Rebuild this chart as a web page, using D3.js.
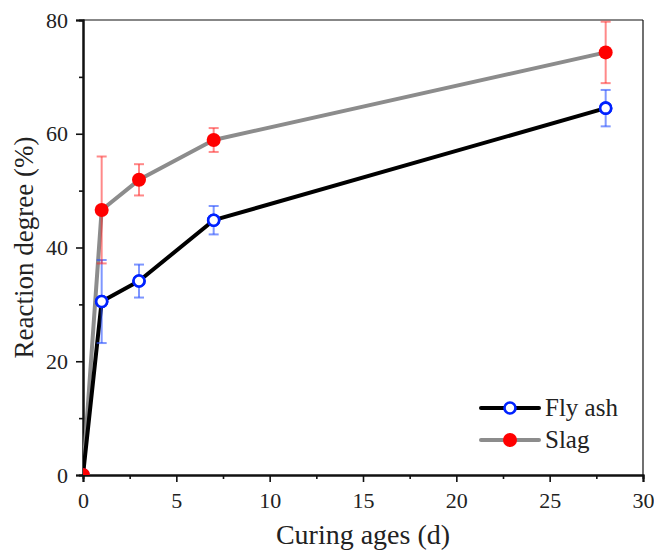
<!DOCTYPE html>
<html><head><meta charset="utf-8">
<script src="https://cdn.jsdelivr.net/npm/d3@7"></script>
<style>body{margin:0;background:#fff}svg{display:block}text{font-family:"Liberation Serif","Times New Roman",serif;fill:#222}</style>
</head><body><svg id="c" width="654" height="552"></svg>
<script>
const ages = [0, 1, 3, 7, 28];
const flyAsh = [0, 30.5, 34.1, 44.8, 64.5];
const flyAshErr = [0, 7.3, 2.9, 2.5, 3.2];
const slag = [0, 46.6, 51.9, 58.9, 74.3];
const slagErr = [0, 9.4, 2.75, 2.1, 5.4];
const xTicks = [0, 5, 10, 15, 20, 25, 30];
const yTicks = [0, 20, 40, 60, 80];

const svg = d3.select("#c");
const L = 83, R = 643, T = 20, B = 475;
const x = d3.scaleLinear().domain([0, 30]).range([L, R]);
const y = d3.scaleLinear().domain([0, 80]).range([B, T]);

svg.append("defs").append("clipPath").attr("id","clip")
  .append("rect").attr("x",L).attr("y",T).attr("width",R-L).attr("height",B-T);

svg.append("line").attr("x1",L).attr("x2",R).attr("y1",T).attr("y2",T).attr("stroke","#111").attr("stroke-width",1.2);
svg.append("line").attr("x1",R).attr("x2",R).attr("y1",T).attr("y2",B).attr("stroke","#111").attr("stroke-width",1.2);

const xAx = svg.append("g").attr("transform",`translate(0,${B})`)
  .call(d3.axisBottom(x).tickValues(xTicks).tickSize(7).tickPadding(10).tickFormat(d3.format("d")));
const xMin = svg.append("g").attr("transform",`translate(0,${B})`)
  .call(d3.axisBottom(x).tickValues(xTicks.slice(0,-1).map(v=>v+2.5)).tickSize(4).tickFormat(""));
const yAx = svg.append("g").attr("transform",`translate(${L},0)`)
  .call(d3.axisLeft(y).tickValues(yTicks).tickSize(7).tickPadding(8).tickFormat(d3.format("d")));
const yMin = svg.append("g").attr("transform",`translate(${L},0)`)
  .call(d3.axisLeft(y).tickValues(yTicks.slice(0,-1).map(v=>v+10)).tickSize(4).tickFormat(""));
[xAx,xMin,yAx,yMin].forEach(g=>{
  g.select(".domain").attr("stroke","#111").attr("stroke-width",2);
  g.selectAll(".tick line").attr("stroke","#111").attr("stroke-width",1.6);
  g.selectAll("text").style("font-size","22px").attr("fill","#222");
});

svg.append("text").attr("x",(L+R)/2).attr("y",544).attr("text-anchor","middle")
  .style("font-size","28px").text("Curing ages (d)");
svg.append("text").attr("transform",`translate(33,${(T+B)/2}) rotate(-90)`).attr("text-anchor","middle")
  .style("font-size","27px").text("Reaction degree (%)");

const plot = svg.append("g").attr("clip-path","url(#clip)");
const series = [
  {vals: slag, err: slagErr, line:"#8c8c8c", ec:"rgba(255,40,40,0.55)", fill:"#ff0000", stroke:"#ff0000", r:7},
  {vals: flyAsh, err: flyAshErr, line:"#000", ec:"rgba(40,80,255,0.6)", fill:"#fff", stroke:"#0022ff", r:5.5}
];
const lineGen = d3.line().x((d,i)=>x(ages[i])).y(d=>y(d));
series.forEach(s=>{
  plot.append("path").datum(s.vals).attr("d",lineGen).attr("fill","none")
    .attr("stroke",s.line).attr("stroke-width",4).attr("stroke-linejoin","round");
});
series.slice().reverse().forEach(s=>{
  const g = plot.append("g").attr("stroke",s.ec).attr("stroke-width",2);
  s.vals.forEach((v,i)=>{
    if(!s.err[i]) return;
    const cx = x(ages[i]);
    g.append("line").attr("x1",cx).attr("x2",cx).attr("y1",y(v+s.err[i])).attr("y2",y(v-s.err[i]));
    [v+s.err[i], v-s.err[i]].forEach(e=>g.append("line").attr("x1",cx-5).attr("x2",cx+5).attr("y1",y(e)).attr("y2",y(e)));
  });
});
[series[1], series[0]].forEach(s=>{
  plot.append("g").selectAll("circle").data(s.vals).join("circle")
    .attr("cx",(d,i)=>x(ages[i])).attr("cy",d=>y(d)).attr("r",s.r)
    .attr("fill",s.fill).attr("stroke",s.stroke).attr("stroke-width", s.fill==="#fff"?2.6:0);
});
plot.append("g").selectAll("circle").data(flyAsh.slice(1)).join("circle")
  .attr("cx",(d,i)=>x(ages[i+1])).attr("cy",d=>y(d)).attr("r",5.5)
  .attr("fill","#fff").attr("stroke","#0022ff").attr("stroke-width",2.6);

const leg = [{t:"Fly ash", s:series[1], yy:408},{t:"Slag", s:series[0], yy:440}];
leg.forEach(l=>{
  svg.append("line").attr("x1",481).attr("x2",539).attr("y1",l.yy).attr("y2",l.yy)
    .attr("stroke",l.s.line).attr("stroke-width",4).attr("stroke-linecap","round");
  svg.append("circle").attr("cx",510).attr("cy",l.yy).attr("r",l.s.r)
    .attr("fill",l.s.fill).attr("stroke",l.s.stroke).attr("stroke-width",l.s.fill==="#fff"?2.6:0);
  svg.append("text").attr("x",545).attr("y",l.yy+8).style("font-size","25px").text(l.t);
});
</script></body></html>
